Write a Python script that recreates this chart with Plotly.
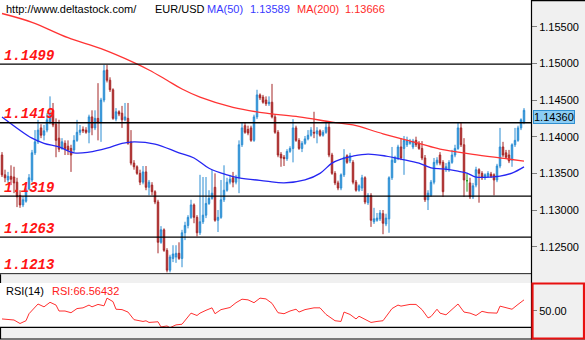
import plotly.graph_objects as go

W, H = 585, 340

# ---- EUR/USD candles (one per bar, oldest first) ----
opens = [
    1.1375, 1.1348, 1.1341, 1.1346, 1.1345, 1.1338, 1.1320, 1.1307, 1.1312, 1.1329,
    1.1341, 1.1378, 1.1393, 1.1412, 1.1402, 1.1409, 1.1420, 1.1436, 1.1417, 1.1398,
    1.1384, 1.1391, 1.1387, 1.1384, 1.1382, 1.1395, 1.1406, 1.1410, 1.1409, 1.1406,
    1.1427, 1.1412, 1.1425, 1.1419, 1.1450, 1.1491, 1.1477, 1.1464, 1.1424, 1.1434,
    1.1432, 1.1423, 1.1425, 1.1393, 1.1364, 1.1359, 1.1350, 1.1338, 1.1352, 1.1331,
    1.1334, 1.1325, 1.1311, 1.1256, 1.1273, 1.1245, 1.1218, 1.1234, 1.1236, 1.1241,
    1.1234, 1.1269, 1.1279, 1.1290, 1.1307, 1.1290, 1.1269, 1.1284, 1.1293, 1.1309,
    1.1316, 1.1331, 1.1286, 1.1290, 1.1314, 1.1327, 1.1338, 1.1344, 1.1338, 1.1344,
    1.1389, 1.1415, 1.1410, 1.1412, 1.1395, 1.1427, 1.1457, 1.1454, 1.1450, 1.1445,
    1.1447, 1.1427, 1.1406, 1.1376, 1.1372, 1.1370, 1.1380, 1.1384, 1.1412, 1.1395,
    1.1384, 1.1391, 1.1397, 1.1402, 1.1406, 1.1404, 1.1408, 1.1402, 1.1406, 1.1413,
    1.1375, 1.1350, 1.1337, 1.1330, 1.1348, 1.1374, 1.1367, 1.1365, 1.1338, 1.1327,
    1.1330, 1.1344, 1.1310, 1.1320, 1.1284, 1.1286, 1.1288, 1.1295, 1.1281, 1.1288,
    1.1344, 1.1365, 1.1370, 1.1386, 1.1384, 1.1389, 1.1391, 1.1386, 1.1395, 1.1391,
    1.1384, 1.1371, 1.1314, 1.1320, 1.1338, 1.1364, 1.1375, 1.1365, 1.1355, 1.1355,
    1.1365, 1.1375, 1.1384, 1.1412, 1.1389, 1.1340, 1.1337, 1.1318, 1.1334, 1.1355,
    1.1350, 1.1344, 1.1346, 1.1349, 1.1348, 1.1341, 1.1360, 1.1386, 1.1378, 1.1375,
    1.1368, 1.1389, 1.1395, 1.1412, 1.1420,
]
highs = [
    1.1379, 1.1355, 1.1352, 1.1361, 1.1359, 1.1344, 1.1327, 1.1319, 1.1333, 1.1349,
    1.1382, 1.1409, 1.1423, 1.1417, 1.1416, 1.1432, 1.1455, 1.1446, 1.1425, 1.1423,
    1.1398, 1.1395, 1.1395, 1.1389, 1.1402, 1.1423, 1.1416, 1.1414, 1.1413, 1.1430,
    1.1436, 1.1436, 1.1473, 1.1453, 1.1498, 1.1498, 1.1481, 1.1466, 1.1439, 1.1436,
    1.1442, 1.1446, 1.1446, 1.1409, 1.1368, 1.1361, 1.1355, 1.1360, 1.1360, 1.1341,
    1.1338, 1.1327, 1.1314, 1.1278, 1.1275, 1.1248, 1.1239, 1.1252, 1.1252, 1.1256,
    1.1273, 1.1284, 1.1293, 1.1314, 1.1309, 1.1293, 1.1348, 1.1345, 1.1345, 1.1327,
    1.1355, 1.1350, 1.1300, 1.1341, 1.1361, 1.1344, 1.1348, 1.1352, 1.1348, 1.1395,
    1.1420, 1.1420, 1.1415, 1.1415, 1.1430, 1.1464, 1.1459, 1.1457, 1.1455, 1.1455,
    1.1472, 1.1430, 1.1409, 1.1379, 1.1375, 1.1383, 1.1387, 1.1424, 1.1415, 1.1398,
    1.1394, 1.1401, 1.1409, 1.1413, 1.1434, 1.1413, 1.1410, 1.1409, 1.1421, 1.1420,
    1.1378, 1.1353, 1.1340, 1.1350, 1.1383, 1.1376, 1.1378, 1.1368, 1.1341, 1.1335,
    1.1348, 1.1346, 1.1323, 1.1323, 1.1303, 1.1296, 1.1300, 1.1300, 1.1295, 1.1346,
    1.1386, 1.1374, 1.1389, 1.1398, 1.1401, 1.1400, 1.1397, 1.1397, 1.1400, 1.1394,
    1.1394, 1.1375, 1.1327, 1.1341, 1.1371, 1.1372, 1.1379, 1.1368, 1.1364, 1.1368,
    1.1382, 1.1389, 1.1419, 1.1419, 1.1398, 1.1350, 1.1344, 1.1337, 1.1359, 1.1357,
    1.1353, 1.1350, 1.1353, 1.1352, 1.1350, 1.1363, 1.1412, 1.1393, 1.1382, 1.1382,
    1.1391, 1.1412, 1.1415, 1.1425, 1.1439,
]
lows = [
    1.1345, 1.1338, 1.1337, 1.1334, 1.1323, 1.1304, 1.1303, 1.1304, 1.1310, 1.1327,
    1.1338, 1.1375, 1.1390, 1.1398, 1.1395, 1.1406, 1.1417, 1.1413, 1.1372, 1.1379,
    1.1382, 1.1375, 1.1375, 1.1352, 1.1379, 1.1393, 1.1402, 1.1405, 1.1404, 1.1391,
    1.1402, 1.1409, 1.1395, 1.1393, 1.1447, 1.1474, 1.1461, 1.1423, 1.1421, 1.1428,
    1.1412, 1.1421, 1.1389, 1.1361, 1.1355, 1.1348, 1.1334, 1.1335, 1.1327, 1.1320,
    1.1320, 1.1308, 1.1241, 1.1254, 1.1243, 1.1215, 1.1215, 1.1229, 1.1228, 1.1232,
    1.1222, 1.1259, 1.1275, 1.1288, 1.1282, 1.1264, 1.1266, 1.1281, 1.1289, 1.1307,
    1.1314, 1.1284, 1.1270, 1.1288, 1.1311, 1.1325, 1.1335, 1.1331, 1.1335, 1.1323,
    1.1386, 1.1404, 1.1402, 1.1393, 1.1393, 1.1424, 1.1450, 1.1445, 1.1442, 1.1442,
    1.1425, 1.1404, 1.1372, 1.1359, 1.1360, 1.1367, 1.1378, 1.1365, 1.1393, 1.1382,
    1.1379, 1.1389, 1.1395, 1.1400, 1.1398, 1.1391, 1.1400, 1.1400, 1.1404, 1.1372,
    1.1348, 1.1334, 1.1327, 1.1327, 1.1345, 1.1363, 1.1364, 1.1335, 1.1325, 1.1325,
    1.1326, 1.1308, 1.1307, 1.1277, 1.1281, 1.1284, 1.1285, 1.1267, 1.1278, 1.1269,
    1.1341, 1.1364, 1.1368, 1.1368, 1.1348, 1.1386, 1.1389, 1.1383, 1.1386, 1.1382,
    1.1368, 1.1311, 1.1300, 1.1318, 1.1335, 1.1361, 1.1361, 1.1318, 1.1352, 1.1352,
    1.1363, 1.1372, 1.1382, 1.1386, 1.1318, 1.1325, 1.1315, 1.1315, 1.1331, 1.1310,
    1.1341, 1.1341, 1.1344, 1.1344, 1.1320, 1.1338, 1.1357, 1.1372, 1.1370, 1.1364,
    1.1359, 1.1386, 1.1393, 1.1409, 1.1417,
]
closes = [
    1.1348, 1.1344, 1.1346, 1.1342, 1.1337, 1.1318, 1.1307, 1.1314, 1.1329, 1.1344,
    1.1378, 1.1393, 1.1409, 1.1402, 1.1408, 1.1423, 1.1432, 1.1416, 1.1395, 1.1383,
    1.1393, 1.1384, 1.1382, 1.1375, 1.1395, 1.1406, 1.1409, 1.1408, 1.1406, 1.1427,
    1.1412, 1.1425, 1.1419, 1.1450, 1.1490, 1.1477, 1.1464, 1.1425, 1.1434, 1.1431,
    1.1423, 1.1427, 1.1391, 1.1364, 1.1359, 1.1350, 1.1338, 1.1352, 1.1331, 1.1338,
    1.1325, 1.1311, 1.1256, 1.1273, 1.1245, 1.1218, 1.1236, 1.1240, 1.1241, 1.1234,
    1.1269, 1.1279, 1.1290, 1.1307, 1.1290, 1.1269, 1.1284, 1.1293, 1.1309, 1.1316,
    1.1323, 1.1286, 1.1290, 1.1314, 1.1327, 1.1338, 1.1342, 1.1338, 1.1344, 1.1389,
    1.1412, 1.1406, 1.1405, 1.1395, 1.1427, 1.1457, 1.1453, 1.1447, 1.1445, 1.1447,
    1.1427, 1.1406, 1.1375, 1.1371, 1.1370, 1.1380, 1.1384, 1.1412, 1.1395, 1.1384,
    1.1391, 1.1397, 1.1402, 1.1409, 1.1405, 1.1408, 1.1402, 1.1406, 1.1413, 1.1375,
    1.1350, 1.1337, 1.1330, 1.1348, 1.1372, 1.1365, 1.1374, 1.1338, 1.1327, 1.1333,
    1.1344, 1.1311, 1.1320, 1.1286, 1.1288, 1.1289, 1.1296, 1.1282, 1.1289, 1.1344,
    1.1368, 1.1371, 1.1386, 1.1371, 1.1395, 1.1395, 1.1393, 1.1394, 1.1389, 1.1384,
    1.1371, 1.1314, 1.1323, 1.1338, 1.1365, 1.1368, 1.1364, 1.1325, 1.1359, 1.1365,
    1.1375, 1.1384, 1.1412, 1.1389, 1.1341, 1.1340, 1.1318, 1.1333, 1.1355, 1.1350,
    1.1344, 1.1348, 1.1350, 1.1346, 1.1341, 1.1360, 1.1386, 1.1375, 1.1372, 1.1367,
    1.1389, 1.1395, 1.1412, 1.1423, 1.1436,
]

# ---- moving averages, sampled at bar indices ----
ma200_idx = [0, 10, 22, 33, 44, 49, 55, 60, 66, 77, 88, 99, 110, 117, 127, 139, 146, 157, 168, 174]
ma200_val = [1.15680, 1.15560, 1.15350, 1.15200, 1.15010, 1.14910, 1.14770, 1.14650, 1.14540, 1.14400,
             1.14320, 1.14270, 1.14200, 1.14160, 1.14040, 1.13910, 1.13830, 1.13760, 1.13700, 1.13666]

ma50_idx = [0, 10, 14, 19, 24, 29, 35, 40, 44, 51, 59, 64, 69, 75, 79, 88, 94, 101, 106, 110,
            113, 117, 122, 128, 133, 139, 143, 147, 152, 155, 158, 163, 166, 170, 174]
ma50_val = [1.14270, 1.13980, 1.13910, 1.13860, 1.13780, 1.13790, 1.13845, 1.13910, 1.13930, 1.13900,
            1.13780, 1.13710, 1.13570, 1.13480, 1.13440, 1.13395, 1.13370, 1.13410, 1.13500, 1.13640,
            1.13695, 1.13736, 1.13763, 1.13736, 1.13695, 1.13640, 1.13575, 1.13560, 1.13530, 1.13504,
            1.13450, 1.13450, 1.13463, 1.13504, 1.13589]

# ---- RSI(14) ----
rsi_idx = [0, 4, 6, 8, 9, 11, 12, 14, 16, 18, 19, 21, 23, 25, 27, 29, 30, 32, 34, 35,
           37, 38, 40, 42, 44, 47, 48, 49, 52, 53, 55, 56, 58, 60, 62, 63, 65, 66, 68, 70,
           71, 73, 76, 78, 80, 82, 84, 86, 88, 90, 92, 94, 96, 98, 99, 101, 104, 106, 108, 111,
           113, 114, 116, 118, 119, 121, 123, 125, 126, 127, 130, 132, 133, 136, 138, 140, 142, 143, 145, 146,
           148, 150, 152, 154, 156, 158, 160, 162, 165, 166, 168, 170, 172, 174]
rsi_val = [37.7, 36.1, 30.8, 35.0, 45.6, 56.0, 60.3, 56.0, 62.9, 58.7, 49.7, 49.7, 47.1, 53.4, 54.5, 58.7, 56.0, 59.7, 57.6, 69.2,
           63.9, 52.4, 51.8, 48.1, 36.6, 33.9, 34.9, 32.4, 33.4, 25.6, 27.1, 24.5, 28.7, 29.7, 40.2, 46.5, 42.9, 46.5, 50.8, 54.5,
           45.6, 51.8, 55.0, 62.3, 67.6, 66.6, 62.3, 69.2, 68.0, 61.3, 47.1, 45.6, 49.7, 52.4, 48.1, 51.8, 54.5, 54.5, 44.5, 35.0,
           33.9, 48.1, 44.5, 37.7, 41.8, 37.7, 32.4, 33.9, 33.9, 35.0, 53.4, 58.7, 57.1, 59.7, 59.7, 51.8, 39.3, 41.3, 52.4, 46.5,
           43.9, 51.8, 60.3, 48.1, 46.5, 42.9, 49.2, 47.1, 46.5, 57.1, 54.5, 52.4, 59.7, 66.56432]

# horizontal support / resistance levels
levels = [1.1499, 1.1419, 1.1319, 1.1263, 1.1213]

price_ticks = [1.125, 1.130, 1.135, 1.140, 1.145, 1.150, 1.155]

# ---- pixel helpers for layout geometry ----
def px(x):
    return x / W

def py(y):
    return 1 - y / H

bars = list(range(len(opens)))
doji = [i for i in bars if opens[i] == closes[i]]
body = [i for i in bars if opens[i] != closes[i]]

UP_FILL, UP_LINE = "#4aa9e4", "#2a8cd2"
DN_FILL, DN_LINE = "#c64646", "#a42626"

fig = go.Figure()

fig.add_trace(go.Candlestick(
    x=body,
    open=[opens[i] for i in body], high=[highs[i] for i in body],
    low=[lows[i] for i in body], close=[closes[i] for i in body],
    increasing=dict(fillcolor=UP_FILL, line=dict(color=UP_LINE, width=1)),
    decreasing=dict(fillcolor=DN_FILL, line=dict(color=DN_LINE, width=1)),
    xaxis="x", yaxis="y", showlegend=False, hoverinfo="skip",
))
fig.add_trace(go.Candlestick(
    x=doji,
    open=[opens[i] for i in doji], high=[highs[i] for i in doji],
    low=[lows[i] for i in doji], close=[closes[i] for i in doji],
    increasing=dict(fillcolor="#1f9a1f", line=dict(color="#1f9a1f", width=1)),
    decreasing=dict(fillcolor="#1f9a1f", line=dict(color="#1f9a1f", width=1)),
    xaxis="x", yaxis="y", showlegend=False, hoverinfo="skip",
))

fig.add_trace(go.Scatter(
    x=ma200_idx, y=ma200_val, mode="lines",
    line=dict(color="#ff3333", width=1.3, shape="spline", smoothing=1.0),
    xaxis="x", yaxis="y", showlegend=False, hoverinfo="skip",
))
fig.add_trace(go.Scatter(
    x=ma50_idx, y=ma50_val, mode="lines",
    line=dict(color="#2626f2", width=1.3, shape="spline", smoothing=1.0),
    xaxis="x", yaxis="y", showlegend=False, hoverinfo="skip",
))

fig.add_trace(go.Scatter(
    x=rsi_idx, y=rsi_val, mode="lines",
    line=dict(color="#ff3030", width=1),
    xaxis="x2", yaxis="y2", showlegend=False, hoverinfo="skip",
))

PLOT_R = 531      # right edge of the chart panes (px)
MAIN_BOTTOM = 274.2
x_range = [-2 / 3, (PLOT_R - 2) / 3]

axis_font = dict(family="Liberation Sans, Arial, sans-serif", size=11, color="#000000")

fig.update_layout(
    width=W, height=H,
    margin=dict(l=0, r=0, t=0, b=0),
    paper_bgcolor="#f0f0f0",
    plot_bgcolor="#ffffff",
    xaxis=dict(domain=[0, px(PLOT_R)], range=x_range, visible=False,
               rangeslider=dict(visible=False), anchor="y", fixedrange=True),
    yaxis=dict(domain=[py(MAIN_BOTTOM), 1], range=[1.12125, 1.158641], side="right",
               tickvals=price_ticks, ticktext=[f"{v:.5f}" for v in price_ticks],
               ticks="outside", ticklen=5, tickcolor="#808080", tickwidth=1,
               showgrid=False, zeroline=False, showline=False,
               tickfont=axis_font, anchor="x", fixedrange=True),
    xaxis2=dict(domain=[0, px(PLOT_R)], range=x_range, visible=False, anchor="y2"),
    yaxis2=dict(domain=[py(327), py(283)], range=[25.5, 92.1], side="right",
                tickvals=[50], ticktext=["50.00"],
                ticks="outside", ticklen=5, tickcolor="#808080", tickwidth=1,
                showgrid=False, zeroline=False, showline=False,
                tickfont=axis_font, anchor="x2"),
    boxgap=0.3,
)

shapes = []
# support / resistance lines
for lv in levels:
    shapes.append(dict(type="line", xref="paper", yref="y", x0=0, x1=px(PLOT_R),
                       y0=lv, y1=lv, line=dict(color="#000000", width=1.3)))

def hline(y, x0, x1, color="#000000", w=1.2):
    shapes.append(dict(type="line", xref="paper", yref="paper",
                       x0=px(x0), x1=px(x1), y0=py(y), y1=py(y),
                       line=dict(color=color, width=w)))

def vline(x, y0, y1, color="#000000", w=1.2):
    shapes.append(dict(type="line", xref="paper", yref="paper",
                       x0=px(x), x1=px(x), y0=py(y0), y1=py(y1),
                       line=dict(color=color, width=w)))

# pane frames
vline(PLOT_R + 0.5, 0, 339.5)
hline(0.6, PLOT_R, W)
hline(327.3, 0, PLOT_R)
hline(339, 0, W)
vline(0.5, MAIN_BOTTOM, 283)
vline(0.5, 327, 339)
# highlighted RSI scale box
shapes.append(dict(type="rect", xref="paper", yref="paper",
                   x0=px(532.5), x1=px(584), y0=py(338.5), y1=py(283.5),
                   line=dict(color="#e81010", width=2.2)))
fig.update_layout(shapes=shapes)

hdr_font = "Liberation Sans, Arial, sans-serif"
ann = []

def label(x, y, text, color, size=11):
    ann.append(dict(xref="paper", yref="paper", x=px(x), y=py(y), text=text,
                    showarrow=False, xanchor="left", yanchor="middle",
                    font=dict(family=hdr_font, size=size, color=color)))

label(4, 8.5, "http://www.deltastock.com/", "#000000")
label(153, 8.5, "EUR/USD", "#000000")
label(205, 8.5, "MA(50)", "#3a3aff")
label(248, 8.5, f"{ma50_val[-1]:.5f}", "#3a3aff")
label(295, 8.5, "MA(200)", "#ff2a2a")
label(343, 8.5, f"{ma200_val[-1]:.5f}", "#ff2a2a")
label(4, 291, "RSI(14)", "#000000")
label(50, 291, f"RSI:{rsi_val[-1]:.5f}", "#ff2020")

# level captions above each line
for lv in levels:
    ann.append(dict(xref="paper", yref="y", x=px(2), y=lv, text=f"<b><i>{lv:.4f}</i></b>",
                    showarrow=False, xanchor="left", yanchor="bottom", yshift=-1.5,
                    font=dict(family="Liberation Mono, Courier New, monospace",
                              size=14, color="#ff1414")))

# last price tag on the scale
ann.append(dict(xref="paper", yref="y", x=px(533), y=closes[-1],
                text=f"{closes[-1]:.5f}", showarrow=False,
                xanchor="left", yanchor="top",
                bgcolor="#8ccdf4", bordercolor="#2f8fd0", borderwidth=1, borderpad=0,
                font=dict(family=hdr_font, size=11, color="#000000")))

fig.update_layout(annotations=ann)

fig.write_html("out.html")
